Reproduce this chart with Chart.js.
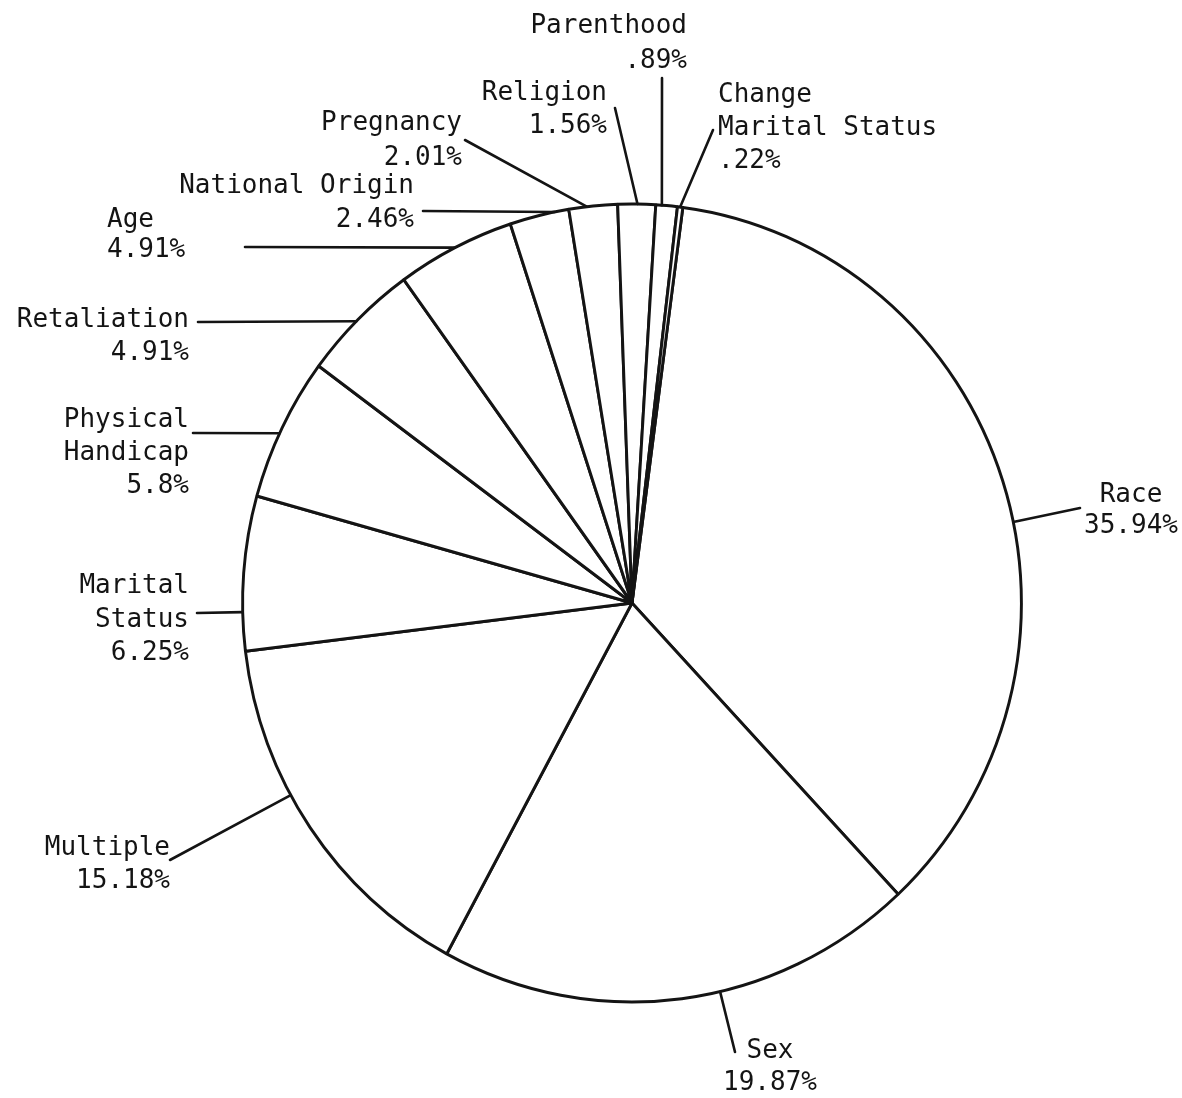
<!DOCTYPE html>
<html>
<head>
<meta charset="utf-8">
<script src="https://cdn.jsdelivr.net/npm/chart.js@4/dist/chart.umd.min.js"></script>
<style>
  html, body { margin: 0; padding: 0; background: #fff; }
  canvas { display: block; }
</style>
</head>
<body>
<canvas id="complaintPie" width="1182" height="1098"></canvas>
<script>
// complaint categories, clockwise from the top
const categories = [
    ["Race"],
    ["Sex"],
    ["Multiple"],
    ["Marital", "Status"],
    ["Physical", "Handicap"],
    ["Retaliation"],
    ["Age"],
    ["National Origin"],
    ["Pregnancy"],
    ["Religion"],
    ["Parenthood"],
    ["Change", "Marital Status"]
];

// share of all complaints, in percent
const shares = [35.94, 19.87, 15.18, 6.25, 5.8, 4.91, 4.91, 2.46, 2.01, 1.56, 0.89, 0.22];

// where each label sits: "at" = point along the slice edge where the leader starts,
// "to" = leader end, x/y = text anchor and first baseline
const labelPlacement = [
    { at: 0.547, to: [1080, 508], x: 1131, y: 502, align: "center", gap: 31 },
    { at: 0.42, to: [735, 1052], x: 770, y: 1058, align: "center", gap: 32 },
    { at: 0.60, to: [170, 860], x: 170, y: 855, align: "right", gap: 33 },
    { at: 0.25, to: [197, 613], x: 189, y: 593, align: "right", gap: 33.5 },
    { at: 0.46, to: [193, 433], x: 189, y: 427, align: "right", gap: 33 },
    { at: 0.48, to: [198, 322], x: 189, y: 327, align: "right", gap: 33 },
    { at: 0.50, to: [245, 247], x: 107, y: 227, align: "left", gap: 30 },
    { at: 0.76, to: [423, 211], x: 414, y: 193, align: "right", gap: 34 },
    { at: 0.37, to: [465, 140], x: 462, y: 130, align: "right", gap: 35 },
    { at: 0.52, to: [615, 108], x: 607, y: 100, align: "right", gap: 33 },
    { at: 0.28, to: [662, 78], x: 687, y: 33, align: "right", gap: 35 },
    { at: 0.50, to: [713, 130], x: 718, y: 102, align: "left", gap: 33 }
];

const ink = "#141414";
// the printed pie is a little narrower than it is tall
const squeezeX = 0.976;

// 0.89 -> ".89%", 5.8 -> "5.8%"
const pct = (v) => String(v).replace(/^0\./, ".") + "%";

const leaderLabels = {
    id: "leaderLabels",
    beforeDatasetsDraw(chart) {
        const ctx = chart.ctx;
        const c = chart.getDatasetMeta(0).data[0];
        ctx.save();
        ctx.translate(c.x, c.y);
        ctx.scale(squeezeX, 1);
        ctx.translate(-c.x, -c.y);
    },
    afterDatasetsDraw(chart) {
        const ctx = chart.ctx;
        ctx.restore();

        const arcs = chart.getDatasetMeta(0).data;
        ctx.save();
        ctx.strokeStyle = ink;
        ctx.fillStyle = ink;
        ctx.lineWidth = 2.6;
        ctx.lineCap = "round";
        ctx.font = "26px 'DejaVu Sans Mono', monospace";
        ctx.textBaseline = "alphabetic";

        arcs.forEach((arc, i) => {
            const p = labelPlacement[i];
            const a = arc.startAngle + p.at * (arc.endAngle - arc.startAngle);
            const sx = arc.x + squeezeX * arc.outerRadius * Math.cos(a);
            const sy = arc.y + arc.outerRadius * Math.sin(a);

            ctx.beginPath();
            ctx.moveTo(sx, sy);
            ctx.lineTo(p.to[0], p.to[1]);
            ctx.stroke();

            const lines = categories[i].concat([pct(shares[i])]);
            ctx.textAlign = p.align;
            lines.forEach((t, k) => {
                ctx.fillText(t, p.x, p.y + k * p.gap);
            });
        });
        ctx.restore();
    }
};

new Chart(document.getElementById("complaintPie"), {
    type: "pie",
    data: {
        labels: categories,
        datasets: [
            {
                data: shares,
                backgroundColor: "#ffffff",
                borderColor: ink,
                borderWidth: 3
            }
        ]
    },
    options: {
        responsive: false,
        animation: false,
        events: [],
        rotation: 7.5,
        layout: {
            padding: { left: 231.5, right: 149.5, top: 202.5, bottom: 94.5 }
        },
        plugins: {
            legend: { display: false },
            tooltip: { enabled: false }
        }
    },
    plugins: [leaderLabels]
});
</script>
</body>
</html>
